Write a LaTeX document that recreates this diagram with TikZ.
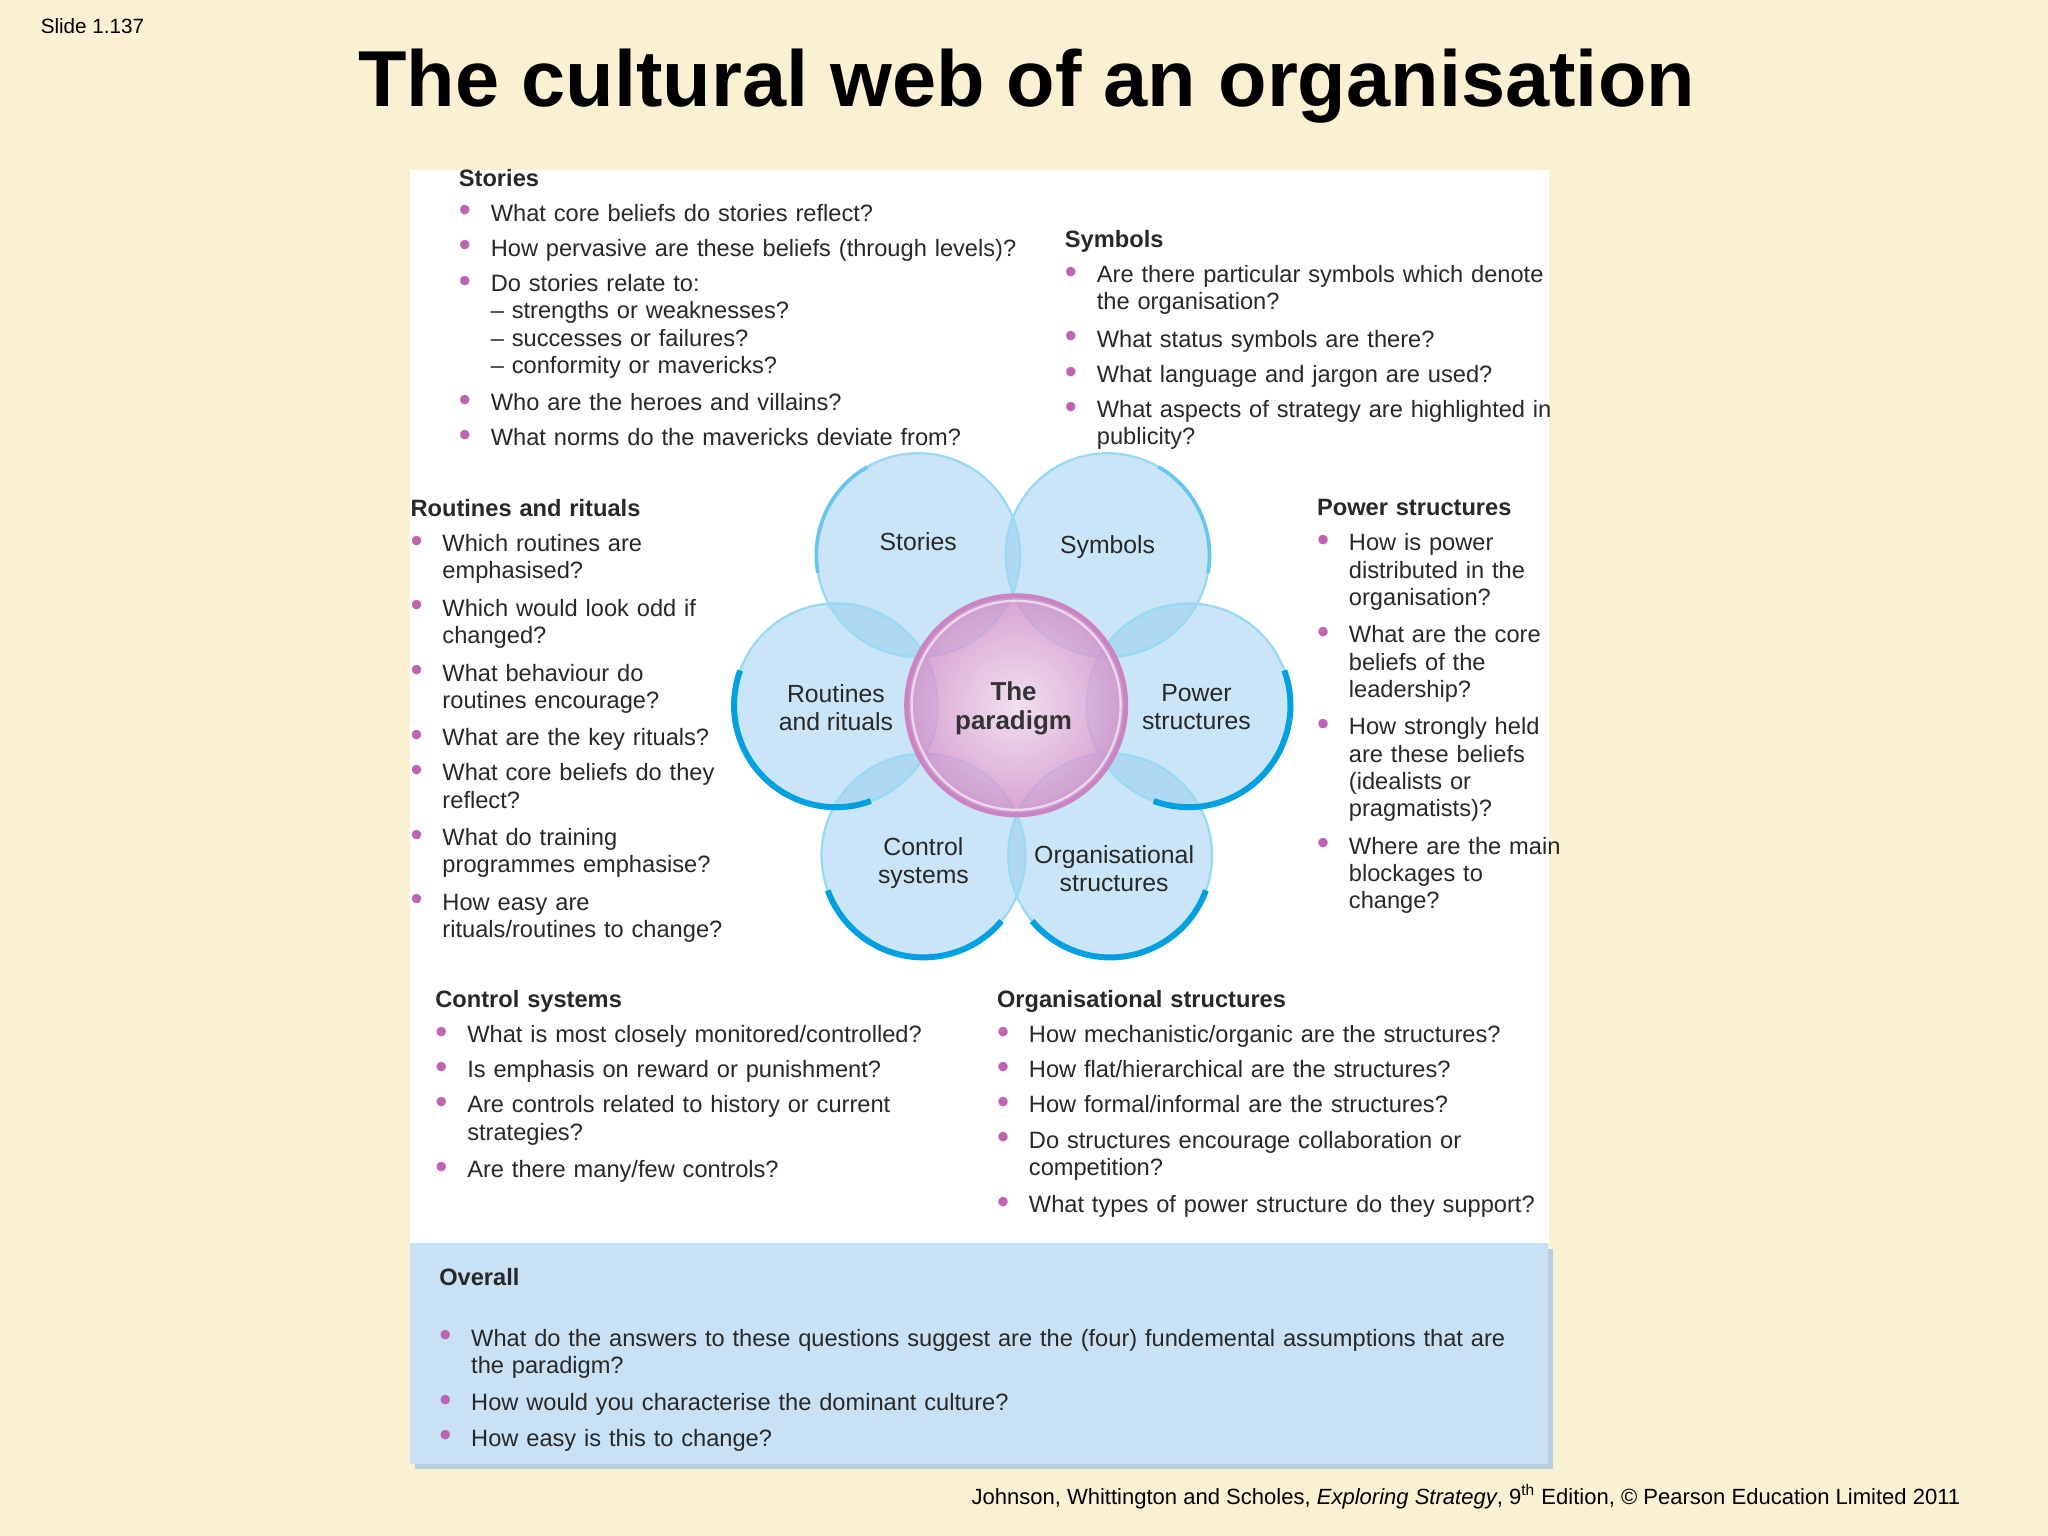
\documentclass[tikz,border=0pt]{standalone}
\usepackage{fontspec}
\setmainfont{Liberation Sans}
\usetikzlibrary{shadows}
\definecolor{bg}{RGB}{250,240,210}
\definecolor{purp}{RGB}{190,100,180}
\definecolor{cfill}{RGB}{150,205,240}
\definecolor{rim}{RGB}{0,160,225}
\definecolor{boxb}{RGB}{200,225,245}
\definecolor{txt}{RGB}{40,40,40}
\newcommand{\bi}[1]{\par\noindent\makebox[1.35em][l]{\textcolor{purp}{\raisebox{-0.05ex}{\fontsize{15}{15}\selectfont•}}}\begin{tabular}[t]{@{}l@{}}#1\end{tabular}}
\newcommand{\hd}[1]{\noindent\textbf{#1}}
\tikzset{
  blk/.style={anchor=north west,align=left,text width=#1,inner sep=0pt,text=txt,
    font=\fontsize{10.3}{11.9}\selectfont\setlength{\parskip}{3.4pt}},
  ctext/.style={align=center,font=\fontsize{10.8}{12.2}\selectfont,text=txt},
  rimarc/.style={draw=rim,line width=2.6pt},
  rimthin/.style={draw=rim!60,line width=1.6pt}
}
\begin{document}
\begin{tikzpicture}[x=0.02cm,y=-0.02cm]
\fill[bg] (0,0) rectangle (1568,1176);
\useasboundingbox (0,0) rectangle (1568,1176);
\node[anchor=west,font=\fontsize{9}{10}\selectfont] (slide) at (25,20) {Slide 1.137};
\node[font=\fontsize{34.6}{38}\selectfont\bfseries] (title) at (786,66) {The cultural web of an organisation};
\fill[white] (314,130) rectangle (1186,952);
% overall box
\fill[boxb!80!gray] (318,956) rectangle (1189,1125);
\fill[boxb] (314,952) rectangle (1185,1121);
% petals
\foreach \n/\x/\y in {st/703/425,sy/848/425,ro/640/540,po/910/540,co/707/655,or/850/655}{
  \fill[cfill,fill opacity=0.5] (\x,\y) circle (78);
  \coordinate (\n) at (\x,\y);
}
\foreach \n in {st,sy,ro,po,co,or}{\draw[rim!40,line width=1pt] (\n) circle (78);}
\draw[rimarc] ([shift={(70:78)}]ro) arc[start angle=70,end angle=200,radius=78];
\draw[rimarc] ([shift={(40:78)}]co) arc[start angle=40,end angle=160,radius=78];
\draw[rimarc] ([shift={(20:78)}]or) arc[start angle=20,end angle=140,radius=78];
\draw[rimarc] ([shift={(-20:78)}]po) arc[start angle=-20,end angle=110,radius=78];
\draw[rimthin] ([shift={(-60:78)}]sy) arc[start angle=-60,end angle=10,radius=78];
\draw[rimthin] ([shift={(170:78)}]st) arc[start angle=170,end angle=240,radius=78];
% paradigm
\shade[inner color=purp!25,outer color=purp!75,opacity=0.8] (778,540) circle (84);
\draw[purp!80,line width=2pt] (778,540) circle (84);
\draw[white,line width=1pt,opacity=0.6] (778,540) circle (80);
\node[ctext] (tst) at (703,415) {Stories};
\node[ctext] (tsy) at (848,419) {Symbols};
\node[ctext] (tro) at (640,542) {Routines\\and rituals};
\node[ctext] (tpo) at (916,541) {Power\\structures};
\node[ctext] (tco) at (707,661) {Control\\systems};
\node[ctext] (tor) at (853,665) {Organisational\\structures};
\node[ctext,font=\fontsize{11.3}{12.6}\selectfont\bfseries,text=black!80] (tpa) at (776,542) {The\\paradigm};
% text blocks
\node[blk=9cm] (stories) at (351,129) {\hd{Stories}
\bi{What core beliefs do stories reflect?}
\bi{How pervasive are these beliefs (through levels)?}
\bi{Do stories relate to:\\– strengths or weaknesses?\\– successes or failures?\\– conformity or mavericks?}
\bi{Who are the heroes and villains?}
\bi{What norms do the mavericks deviate from?}};
\node[blk=8cm] (symbols) at (815,176) {\hd{Symbols}
\bi{Are there particular symbols which denote\\the organisation?}
\bi{What status symbols are there?}
\bi{What language and jargon are used?}
\bi{What aspects of strategy are highlighted in\\publicity?}};
\node[blk=6cm] (routines) at (314,382) {\hd{Routines and rituals}
\bi{Which routines are\\emphasised?}
\bi{Which would look odd if\\changed?}
\bi{What behaviour do\\routines encourage?}
\bi{What are the key rituals?}
\bi{What core beliefs do they\\reflect?}
\bi{What do training\\programmes emphasise?}
\bi{How easy are\\rituals/routines to change?}};
\node[blk=5cm] (power) at (1008,382) {\hd{Power structures}
\bi{How is power\\distributed in the\\organisation?}
\bi{What are the core\\beliefs of the\\leadership?}
\bi{How strongly held\\are these beliefs\\(idealists or\\pragmatists)?}
\bi{Where are the main\\blockages to\\change?}};
\node[blk=9cm] (control) at (333,758) {\hd{Control systems}
\bi{What is most closely monitored/controlled?}
\bi{Is emphasis on reward or punishment?}
\bi{Are controls related to history or current\\strategies?}
\bi{Are there many/few controls?}};
\node[blk=9.5cm] (org) at (763,758) {\hd{Organisational structures}
\bi{How mechanistic/organic are the structures?}
\bi{How flat/hierarchical are the structures?}
\bi{How formal/informal are the structures?}
\bi{Do structures encourage collaboration or\\competition?}
\bi{What types of power structure do they support?}};
\node[blk=17cm] (overall) at (336,971) {\hd{Overall}\par\vspace{11pt}
\bi{What do the answers to these questions suggest are the (four) fundemental assumptions that are\\the paradigm?}
\bi{How would you characterise the dominant culture?}
\bi{How easy is this to change?}};
\node[anchor=east,font=\fontsize{9.6}{11}\selectfont] (foot) at (1507,1146) {Johnson, Whittington and Scholes, \textit{Exploring Strategy}, 9\textsuperscript{th} Edition, © Pearson Education Limited 2011};
\end{tikzpicture}
\end{document}
